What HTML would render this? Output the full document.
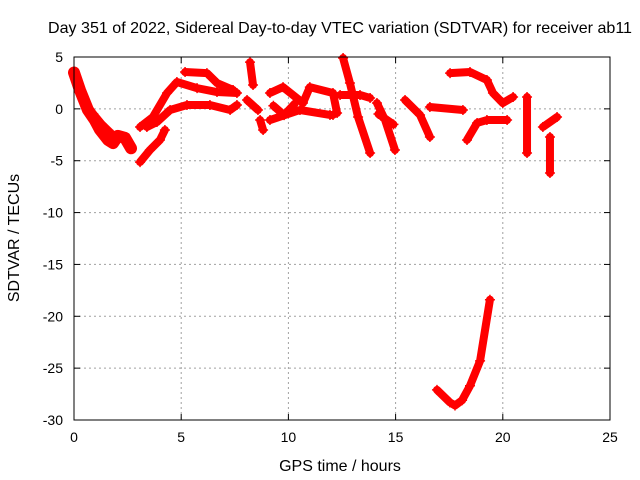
<!DOCTYPE html>
<html><head><meta charset="utf-8"><style>
body{margin:0;background:#fff;}
svg{display:block;font-family:"Liberation Sans",sans-serif;}
</style></head><body>
<svg id="chart" width="640" height="480" viewBox="0 0 640 480">
<rect width="640" height="480" fill="#fff"/>
<g id="grid"></g><g id="ticks"></g><g id="marks"></g>
<rect x="74" y="57" width="536" height="363" fill="none" stroke="#000" stroke-width="1"/>
<text x="340" y="33" font-size="16" text-anchor="middle" textLength="584" lengthAdjust="spacingAndGlyphs">Day 351 of 2022, Sidereal Day-to-day VTEC variation (SDTVAR) for receiver ab11</text>
<text x="340" y="471" font-size="16" text-anchor="middle">GPS time / hours</text>
<text transform="translate(19,238) rotate(-90)" font-size="16" text-anchor="middle">SDTVAR / TECUs</text>
</svg>
<script>
const xTicks=[0,5,10,15,20,25];
const yTicks=[5,0,-5,-10,-15,-20,-25,-30];
const segHours=[
[0,0.28,0.65,0.98,1.21,1.59,1.82,2.05,2.38,2.66],
[0.9,1.3,1.8],
[3.08,3.54,4.01,4.24],
[3.08,3.68,4.34,4.80,5.74,6.67,7.60],
[3.40,3.87,4.48,5.27,6.34,7.28,7.60],
[5.18,6.20,6.67,7.42],
[8.21,8.35],
[8.07,8.58],
[8.68,8.82],
[9.14,9.75,10.68,11.0,12.08,12.27],
[9.14,10.54,11.94,12.08],
[9.3,9.8,10.3],
[12.55,12.87,13.25,13.81],
[12.41,13.34,13.81],
[14.13,14.51,14.97],
[14.2,14.9],
[15.44,16.14,16.6],
[16.6,18.14],
[17.54,18.47,19.26,19.54,20.0,20.48],
[18.33,18.8,19.26,20.2],
[21.13,21.13],
[22.53,21.87],
[22.2,22.2],
[16.93,17.53,17.77,18.1,18.47,18.94,19.4]
];
const segValues=[
[3.5,1.8,-0.1,-1.1,-2.0,-3.0,-3.3,-2.6,-2.8,-3.8],
[-0.5,-1.5,-2.5],
[-5.13,-3.97,-3.0,-2.04],
[-1.75,-0.79,1.53,2.59,2.0,1.62,1.53],
[-1.75,-1.27,-0.11,0.37,0.37,-0.11,0.37],
[3.55,3.45,2.49,1.82],
[4.5,2.3],
[0.85,-0.11],
[-1.08,-2.04],
[1.53,2.1,0.56,2.1,1.53,-0.4],
[-1.08,-0.11,-0.59,-0.59],
[0.3,-0.6,0.5],
[4.9,2.49,-0.79,-4.26],
[1.34,1.34,1.05],
[0.56,-1.08,-3.97],
[-0.5,-1.5],
[0.85,-0.59,-2.71],
[0.18,-0.11],
[3.45,3.55,2.78,1.53,0.56,1.14],
[-3.0,-1.36,-1.08,-1.08],
[1.14,-4.26],
[-0.79,-1.75],
[-2.71,-6.19],
[-27.1,-28.3,-28.6,-28.1,-26.7,-24.3,-18.4]
];
const X0=74,X1=610,Y0=57,Y1=420,xMin=0,xMax=25,yMin=-30,yMax=5;
const sx=h=>X0+(h-xMin)/(xMax-xMin)*(X1-X0);
const sy=v=>Y0+(yMax-v)/(yMax-yMin)*(Y1-Y0);
const NS='http://www.w3.org/2000/svg';
const grid=document.getElementById('grid'),ticks=document.getElementById('ticks'),marks=document.getElementById('marks');
function mk(tag,attrs,parent){const e=document.createElementNS(NS,tag);for(const k in attrs)e.setAttribute(k,attrs[k]);parent.appendChild(e);return e;}
xTicks.forEach(t=>{
  const x=sx(t);
  if(t>xMin&&t<xMax){const g=mk('line',{x1:x,y1:Y0,x2:x,y2:Y1,stroke:'#a0a0a0','stroke-dasharray':'2,3'},grid);
  
  }
  mk('line',{x1:x,y1:Y1,x2:x,y2:Y1-6,stroke:'#000'},ticks);
  mk('line',{x1:x,y1:Y0,x2:x,y2:Y0+6,stroke:'#000'},ticks);
  const l=mk('text',{x:x,y:Y1+22,'font-size':'14','text-anchor':'middle'},ticks);
  l.textContent=t;
  
  
});
yTicks.forEach(t=>{
  const y=sy(t);
  if(t>yMin&&t<yMax){const g=mk('line',{x1:X0,y1:y,x2:X1,y2:y,stroke:'#a0a0a0','stroke-dasharray':'2,3'},grid);
  
  }
  mk('line',{x1:X0,y1:y,x2:X0+6,y2:y,stroke:'#000'},ticks);
  mk('line',{x1:X1,y1:y,x2:X1-6,y2:y,stroke:'#000'},ticks);
  const l=mk('text',{x:X0-11,y:y+5,'font-size':'14','text-anchor':'end'},ticks);
  l.textContent=t;
  
  
});
segHours.forEach((hs,i)=>{
  const vs=segValues[i];
  const pts=hs.map((h,j)=>sx(h)+','+sy(vs[j])).join(' ');
  const w=i===0?12:8;
  const p=mk('polyline',{points:pts,fill:'none',stroke:'#ff0000','stroke-width':w,'stroke-linecap':'round','stroke-linejoin':'round'},marks);
  
  
  hs.forEach((h,j)=>{
    const x=sx(h),y=sy(vs[j]);
    const m=mk('path',{d:`M${x-5},${y}H${x+5}M${x},${y-5}V${y+5}`,stroke:'#ff0000','stroke-width':1.5},marks);
    
    
  });
});
</script>
</body></html>
